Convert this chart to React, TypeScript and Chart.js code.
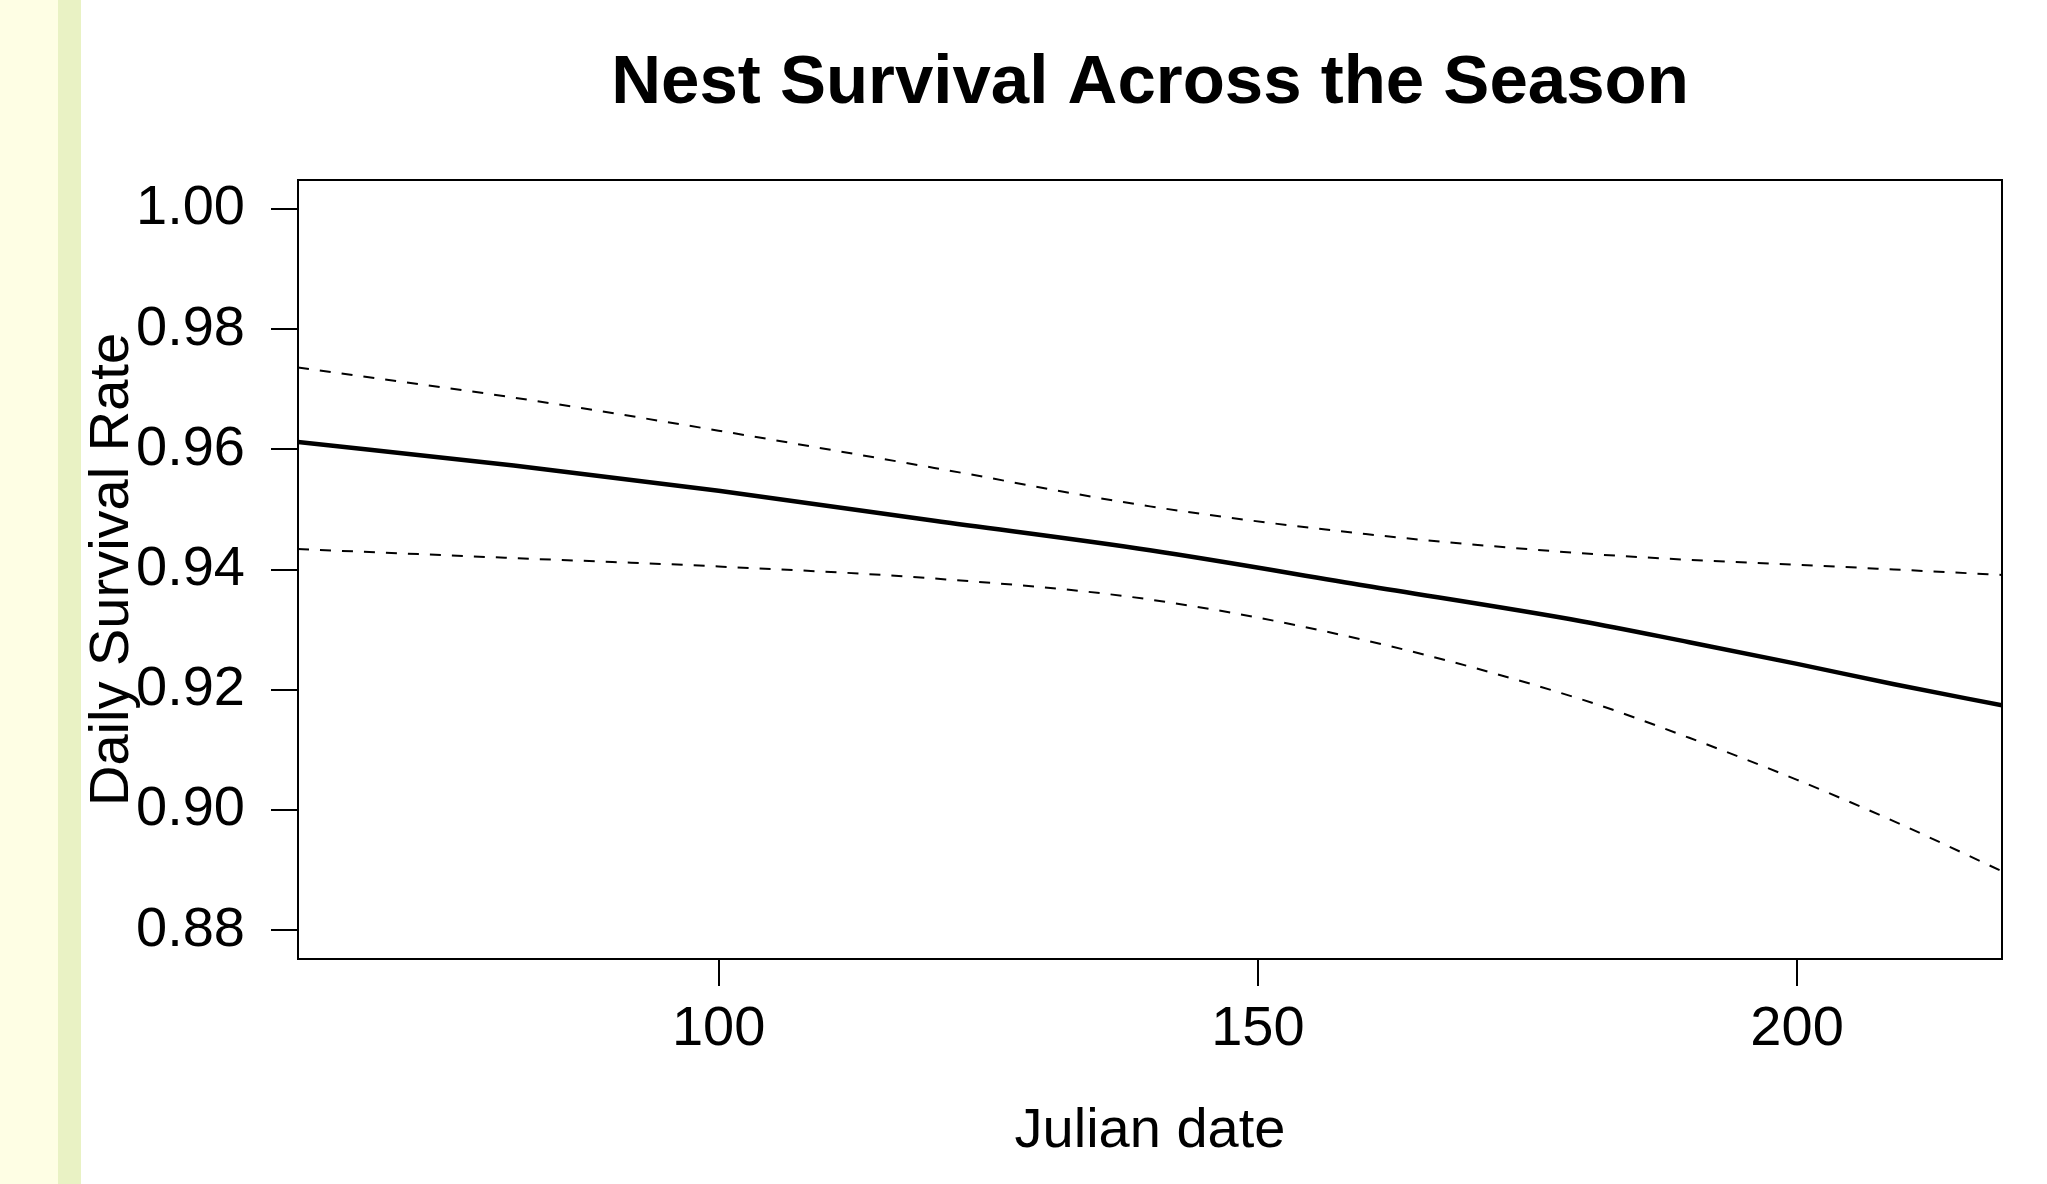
import React, { useEffect, useRef } from "react";
import { Chart, registerables } from "chart.js";

Chart.register(...registerables);

// ---- data ----
const julianDate = [61, 81, 100, 120, 140, 160, 180, 190, 200, 209, 219];
const dailySurvival = [0.9612, 0.9573, 0.9531, 0.9481, 0.9432, 0.9373, 0.9314, 0.9279, 0.9243, 0.9209, 0.9174];
const upperCI = [0.9736, 0.9686, 0.9631, 0.9569, 0.9505, 0.9459, 0.9427, 0.9416, 0.9408, 0.94, 0.9391];
const lowerCI = [0.9434, 0.9419, 0.9405, 0.9385, 0.935, 0.9282, 0.9184, 0.912, 0.905, 0.8981, 0.8898];

const xTickValues = [100, 150, 200];
const yTickValues = [0.88, 0.9, 0.92, 0.94, 0.96, 0.98, 1.0];
const xLimits = [61, 219];
const yLimits = [0.8752, 1.0048];

const chartTitle = "Nest Survival Across the Season";
const xAxisTitle = "Julian date";
const yAxisTitle = "Daily Survival Rate";

const FONT = '"Liberation Sans", Arial, Helvetica, sans-serif';

const toPoints = (ys: number[]) => julianDate.map((x, i) => ({ x, y: ys[i] }));

const frameAndTitle = {
  id: "frameAndTitle",
  afterDraw(chart: any) {
    const { ctx, chartArea } = chart;
    const { left, right, top, bottom } = chartArea;
    ctx.save();
    ctx.strokeStyle = "#000";
    ctx.lineWidth = 2;
    ctx.strokeRect(left, top, right - left, bottom - top);
    ctx.fillStyle = "#000";
    ctx.font = `bold 69px ${FONT}`;
    ctx.textAlign = "center";
    ctx.textBaseline = "alphabetic";
    ctx.fillText(chartTitle, (left + right) / 2, 103);
    ctx.restore();
  },
};

export default function App() {
  const canvasRef = useRef<HTMLCanvasElement | null>(null);

  useEffect(() => {
    const canvas = canvasRef.current;
    if (!canvas) return;
    const tickGrid = {
      display: true,
      drawOnChartArea: false,
      drawTicks: true,
      tickLength: 27,
      color: "#000",
      lineWidth: 2,
    };
    const chart = new Chart(canvas, {
      type: "line",
      data: {
        datasets: [
          {
            label: "Daily survival rate",
            data: toPoints(dailySurvival),
            borderColor: "#000",
            borderWidth: 4.5,
            pointRadius: 0,
            fill: false,
            cubicInterpolationMode: "monotone",
          },
          {
            label: "Upper 95% CI",
            data: toPoints(upperCI),
            borderColor: "#000",
            borderWidth: 2,
            borderDash: [11, 11],
            pointRadius: 0,
            fill: false,
            cubicInterpolationMode: "monotone",
          },
          {
            label: "Lower 95% CI",
            data: toPoints(lowerCI),
            borderColor: "#000",
            borderWidth: 2,
            borderDash: [11, 11],
            pointRadius: 0,
            fill: false,
            cubicInterpolationMode: "monotone",
          },
        ],
      },
      options: {
        animation: false,
        responsive: false,
        maintainAspectRatio: false,
        layout: { padding: { top: 180, left: 0, right: 45, bottom: 0 } },
        plugins: {
          legend: { display: false },
          tooltip: { enabled: false },
          title: { display: false },
        },
        scales: {
          x: {
            type: "linear",
            min: xLimits[0],
            max: xLimits[1],
            afterBuildTicks: (s: any) => {
              s.ticks = xTickValues.map((v) => ({ value: v }));
            },
            afterFit: (s: any) => {
              s.height = 225;
            },
            grid: tickGrid,
            border: { display: false },
            ticks: {
              color: "#000",
              font: { family: FONT, size: 56 },
              padding: 10,
              maxRotation: 0,
              autoSkip: false,
              callback: (v: any) => String(v),
            },
            title: {
              display: true,
              text: xAxisTitle,
              color: "#000",
              font: { family: FONT, size: 56 },
              padding: { top: 0, bottom: 19 },
            },
          },
          y: {
            type: "linear",
            min: yLimits[0],
            max: yLimits[1],
            afterBuildTicks: (s: any) => {
              s.ticks = yTickValues.map((v) => ({ value: v }));
            },
            afterFit: (s: any) => {
              s.width = 298;
            },
            grid: tickGrid,
            border: { display: false },
            ticks: {
              color: "#000",
              font: { family: FONT, size: 56 },
              padding: 26,
              autoSkip: false,
              callback: (v: any) => Number(v).toFixed(2),
            },
            title: {
              display: true,
              text: yAxisTitle,
              color: "#000",
              font: { family: FONT, size: 56 },
              padding: { top: 79, bottom: 0 },
            },
          },
        },
      },
      plugins: [frameAndTitle],
    } as any);
    return () => chart.destroy();
  }, []);

  return (
    <div
      style={{
        position: "fixed",
        left: 0,
        top: 0,
        width: 2047,
        height: 1184,
        background: "#ffffff",
        overflow: "hidden",
      }}
    >
      <div style={{ position: "absolute", left: 0, top: 0, width: 58, height: 1184, background: "#FEFEE4" }} />
      <div style={{ position: "absolute", left: 58, top: 0, width: 23, height: 1184, background: "#E9F2C4" }} />
      <canvas
        ref={canvasRef}
        width={2047}
        height={1184}
        style={{ position: "absolute", left: 0, top: 0, width: 2047, height: 1184 }}
      />
    </div>
  );
}
